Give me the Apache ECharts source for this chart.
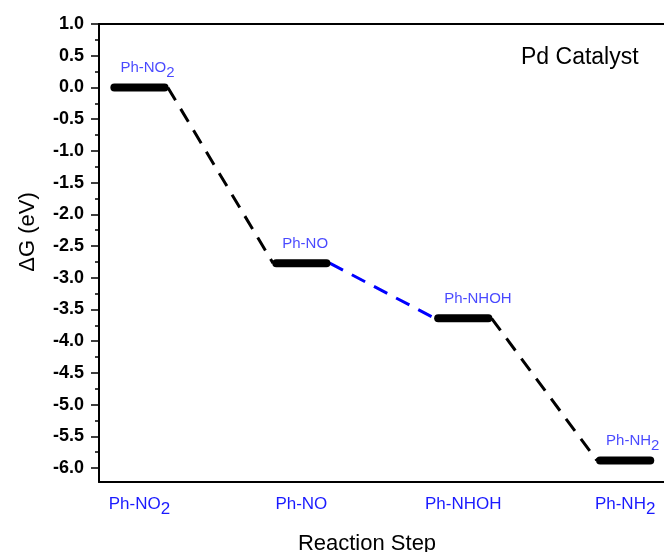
<!DOCTYPE html>
<html>
<head>
<meta charset="utf-8">
<script src="https://cdn.jsdelivr.net/npm/echarts@6/dist/echarts.min.js"></script>
<style>
  html, body { margin: 0; padding: 0; background: #fff; }
  #main { width: 664px; height: 552px; }
</style>
</head>
<body>
<div id="main"></div>
<script>
// reaction steps and free energy of each intermediate (eV)
const steps = ['Ph-NO2', 'Ph-NO', 'Ph-NHOH', 'Ph-NH2'];
const stepX = [1, 2, 3, 4];
const dG = [0.0, -2.77, -3.64, -5.88];
// y tick labels
const yTicks = [1.0, 0.5, 0.0, -0.5, -1.0, -1.5, -2.0, -2.5, -3.0, -3.5, -4.0, -4.5, -5.0, -5.5, -6.0];

// styles
const FONT = 'Arial, "Liberation Sans", sans-serif';
const BLUE = '#1a1aff';
const linkColors = ['#000000', '#0000ff', '#000000'];
const HALF = 0.155; // half width of a level line (without round cap)
const GAP = 0.175;  // where the dashed link leaves / meets a level

// minor ticks halfway between the labelled ones
const yMinor = [];
for (let i = 0; i < yTicks.length - 1; i++) {
  yMinor.push((yTicks[i] + yTicks[i + 1]) / 2);
}

// 'Ph-NO2' -> '{a|Ph-NO}{s|2}'
function richName(name) {
  return name.split(/(\d+)/).map((p, i) => {
    if (!p) return '';
    return i % 2 ? '{s|' + p + '}' : '{a|' + p + '}';
  }).join('');
}

function richStyle(size) {
  return {
    a: { fontSize: size, color: BLUE, fontFamily: FONT, verticalAlign: 'top' },
    s: { fontSize: size, color: BLUE, fontFamily: FONT, verticalAlign: 'top', padding: [5, 0, 0, 0] }
  };
}

var chart = echarts.init(document.getElementById('main'));

var series = [];
// energy levels
steps.forEach((n, i) => {
  series.push({
    type: 'line',
    silent: true,
    symbol: 'none',
    z: 3,
    data: [[stepX[i] - HALF, dG[i]], [stepX[i] + HALF, dG[i]]],
    lineStyle: { color: '#000', width: 8, cap: 'round' }
  });
});
// dashed links between levels
for (let i = 0; i < steps.length - 1; i++) {
  series.push({
    type: 'line',
    silent: true,
    symbol: 'none',
    z: 2,
    data: [[stepX[i] + GAP, dG[i]], [stepX[i + 1] - GAP, dG[i + 1]]],
    lineStyle: { color: linkColors[i], width: 3, type: [15, 10] }
  });
}
// names above the levels
series.push({
  type: 'scatter',
  silent: true,
  symbolSize: 0,
  z: 4,
  data: steps.map((n, i) => ({ name: n, value: [stepX[i] - HALF, dG[i]] })),
  label: {
    show: true,
    position: [6, -27],
    align: 'left',
    verticalAlign: 'top',
    formatter: p => richName(p.name),
    rich: richStyle(15)
  }
});

var option = {
  animation: false,
  grid: { left: 99, right: 0, top: 24, bottom: 70, outerBoundsMode: 'none' },
  xAxis: [
    {
      type: 'value',
      position: 'bottom',
      min: 0.75,
      max: 4.24,
      axisLine: { show: true, onZero: false, lineStyle: { color: '#000', width: 2 } },
      axisTick: { show: false },
      splitLine: { show: false },
      axisLabel: {
        customValues: stepX,
        margin: 14,
        formatter: v => richName(steps[stepX.indexOf(v)] || ''),
        rich: richStyle(17)
      }
    },
    {
      type: 'value',
      position: 'top',
      min: 0.75,
      max: 4.24,
      axisLine: { show: true, onZero: false, lineStyle: { color: '#000', width: 2 } },
      axisTick: { show: false },
      axisLabel: { show: false },
      splitLine: { show: false }
    }
  ],
  yAxis: [
    {
      type: 'value',
      position: 'left',
      min: -6.22,
      max: 1.0,
      axisLine: { show: true, onZero: false, lineStyle: { color: '#000', width: 2 } },
      axisTick: { show: true, customValues: yTicks, length: 8, lineStyle: { color: '#000', width: 1.5 } },
      splitLine: { show: false },
      axisLabel: {
        customValues: yTicks,
        margin: 15,
        color: '#000',
        fontSize: 18,
        fontWeight: 'bold',
        fontFamily: FONT,
        formatter: v => v.toFixed(1)
      }
    },
    {
      type: 'value',
      position: 'left',
      min: -6.22,
      max: 1.0,
      axisLine: { show: false, onZero: false },
      axisTick: { show: true, customValues: yMinor, length: 4, lineStyle: { color: '#000', width: 1.5 } },
      axisLabel: { show: false },
      splitLine: { show: false }
    }
  ],
  graphic: [
    {
      type: 'text',
      left: 521,
      top: 46,
      style: { text: 'Pd Catalyst', font: '23px ' + FONT, fill: '#000' }
    },
    {
      type: 'text',
      x: 28,
      y: 232,
      rotation: Math.PI / 2,
      style: { text: '\u0394G (eV)', font: '22px ' + FONT, fill: '#000', align: 'center', verticalAlign: 'middle' }
    },
    {
      type: 'text',
      x: 367,
      y: 544,
      style: { text: 'Reaction Step', font: '22px ' + FONT, fill: '#000', align: 'center', verticalAlign: 'middle' }
    }
  ],
  series: series
};

chart.setOption(option);
</script>
</body>
</html>
